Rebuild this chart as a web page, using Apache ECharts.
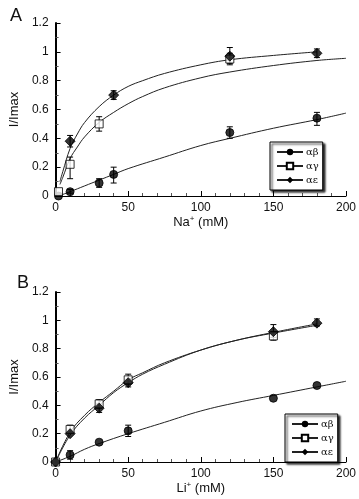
<!DOCTYPE html>
<html><head><meta charset="utf-8">
<script src="https://cdn.jsdelivr.net/npm/echarts@6/dist/echarts.min.js"></script>
<style>html,body{margin:0;padding:0;background:#fff}#c{width:359px;height:499px}</style>
</head><body><div id="c"></div>
<script>
// ---- Panel A (Na+) ----
const naAB = [[2,0.0],[10,0.03],[30,0.09],[40,0.15],[120,0.44],[180,0.54]];
const naAG = [[2,0.03],[10,0.22],[30,0.50],[120,0.95]];
const naAE = [[10,0.38],[40,0.70],[120,0.97],[180,0.99]];
const naErrAB = [[10,0.02,0.045],[30,0.06,0.12],[40,0.09,0.20],[120,0.40,0.48],[180,0.49,0.58]];
const naErrAG = [[10,0.12,0.27],[30,0.45,0.55],[120,0.91,0.99]];
const naErrAE = [[10,0.34,0.42],[40,0.67,0.73],[120,0.92,1.03],[180,0.96,1.02]];
const naFitAB = [[2,0],[10,0.03],[20,0.07],[30,0.11],[40,0.15],[50,0.19],[75,0.27],[100,0.35],[120,0.40],[150,0.47],[180,0.53],[200,0.575]];
const naFitAG = [[3,0.08],[5,0.13],[10,0.26],[15,0.34],[20,0.41],[30,0.51],[40,0.58],[50,0.64],[60,0.69],[75,0.75],[100,0.82],[120,0.86],[150,0.905],[180,0.94],[200,0.955]];
const naFitAE = [[3,0.1],[5,0.17],[10,0.33],[15,0.43],[20,0.51],[30,0.62],[40,0.70],[50,0.76],[60,0.80],[75,0.85],[100,0.91],[120,0.945],[150,0.975],[180,1.0]];
// ---- Panel B (Li+) ----
const liAB = [[0,0],[10,0.05],[30,0.14],[50,0.22],[150,0.45],[180,0.54]];
const liAG = [[0,0],[10,0.23],[30,0.41],[50,0.58],[150,0.89]];
const liAE = [[0,0],[10,0.20],[30,0.38],[50,0.56],[150,0.92],[180,0.98]];
const liErrAB = [[10,0.02,0.08],[50,0.18,0.26]];
const liErrAG = [[10,0.21,0.26],[30,0.38,0.44],[50,0.55,0.62],[150,0.86,0.92]];
const liErrAE = [[30,0.35,0.41],[50,0.53,0.58],[150,0.88,0.97],[180,0.96,1.01]];
const liFitAB = [[0,0],[10,0.04],[20,0.09],[30,0.13],[50,0.20],[75,0.28],[100,0.36],[125,0.42],[150,0.47],[180,0.53],[200,0.57]];
const liFitAG = [[0,0],[10,0.21],[20,0.33],[30,0.42],[40,0.50],[50,0.58],[60,0.63],[75,0.70],[100,0.79],[125,0.86],[150,0.91],[180,0.965]];
const liFitAE = [[0,0],[10,0.19],[20,0.31],[30,0.40],[40,0.49],[50,0.56],[60,0.62],[75,0.69],[100,0.79],[125,0.86],[150,0.915],[180,0.975]];

const names = ['αβ','αγ','αε'];
const xTicks = [0,50,100,150,200];
const yTicks = [0,0.2,0.4,0.6,0.8,1,1.2];

const FONT = 'Liberation Sans, Arial, sans-serif';
const chart = echarts.init(document.getElementById('c'), null, {renderer:'canvas'});

function xAxis(gi, nm){
  return {type:'value', gridIndex:gi, min:0, max:200, interval:50,
    name:nm, nameLocation:'middle', nameGap:19,
    nameTextStyle:{color:'#111', fontSize:13, fontFamily:FONT, rich:{s:{fontSize:8, verticalAlign:'top', color:'#111', fontFamily:FONT, padding:[0,0,6,0]}}},
    axisLine:{lineStyle:{color:'#000', width:1}},
    axisTick:{inside:true, length:5, lineStyle:{color:'#000'}},
    minorTick:{show:true, splitNumber:5, length:3, lineStyle:{color:'#555'}},
    splitLine:{show:false},
    axisLabel:{color:'#111', fontSize:12, fontFamily:FONT, margin:6,
      formatter:v=> xTicks.includes(v)? String(v):''}};
}
function yAxis(gi){
  return {type:'value', gridIndex:gi, min:0, max:1.2, interval:0.2,
    name:'I/Imax', nameLocation:'middle', nameGap:30, nameRotate:90,
    nameTextStyle:{color:'#111', fontSize:13, fontFamily:FONT},
    axisLine:{lineStyle:{color:'#000', width:2}},
    axisTick:{inside:true, length:5, lineStyle:{color:'#000'}},
    minorTick:{show:true, splitNumber:2, length:3, lineStyle:{color:'#555'}},
    splitLine:{show:false},
    axisLabel:{color:'#111', fontSize:12, fontFamily:FONT, margin:7,
      formatter:v=>{ const r=Math.round(v*10)/10; return yTicks.includes(r)? String(r):''; }}};
}
const sym = {
  'αβ': {symbol:'circle', size:8, itemStyle:{color:'#000', borderColor:'#000'}},
  'αγ': {symbol:'rect', size:8, itemStyle:{color:'#fff', borderColor:'#000', borderWidth:1}},
  'αε': {symbol:'diamond', size:10, itemStyle:{color:'#000', borderColor:'#000'}}
};
function fit(name, data, gi){
  return {type:'line', name:name, xAxisIndex:gi, yAxisIndex:gi, data:data, smooth:0.4,
    showSymbol:false, symbol:sym[name].symbol, symbolSize:sym[name].size, itemStyle:sym[name].itemStyle,
    lineStyle:{color:'#222', width:1}, silent:true, z:2};
}
function pts(name, data, gi){
  return {type:'scatter', name:name, xAxisIndex:gi, yAxisIndex:gi, data:data,
    symbol:sym[name].symbol, symbolSize:sym[name].size, itemStyle:sym[name].itemStyle, z:5};
}
function err(data, gi){
  return {type:'custom', name:'err', xAxisIndex:gi, yAxisIndex:gi, data:data, z:4,
    renderItem:(params, api)=>{
      const x=api.value(0), lo=api.coord([x,api.value(1)]), hi=api.coord([x,api.value(2)]);
      const w=3;
      return {type:'group', children:[
        {type:'line', shape:{x1:lo[0],y1:lo[1],x2:hi[0],y2:hi[1]}, style:{stroke:'#000', lineWidth:1}},
        {type:'line', shape:{x1:lo[0]-w,y1:lo[1],x2:lo[0]+w,y2:lo[1]}, style:{stroke:'#000', lineWidth:1}},
        {type:'line', shape:{x1:hi[0]-w,y1:hi[1],x2:hi[0]+w,y2:hi[1]}, style:{stroke:'#000', lineWidth:1}}
      ]};
    }};
}
function legend(left, top, gap){
  return {data:names, orient:'vertical', left:left, top:top, selectedMode:false,
    itemWidth:26, itemHeight:8, itemGap:gap, padding:[5,4,5,6],
    backgroundColor:'#fff', borderColor:'#000', borderWidth:1,
    shadowColor:'rgba(0,0,0,0.85)', shadowOffsetX:2, shadowOffsetY:2, shadowBlur:2,
    textStyle:{color:'#111', fontSize:10, fontFamily:'DejaVu Serif, serif', padding:[0,0,0,-2]}};
}

chart.setOption({
  animation:false,
  backgroundColor:'#fff',
  title:[
    {text:'A', left:5, top:2, textStyle:{fontSize:18, fontWeight:'normal', color:'#111', fontFamily:FONT}},
    {text:'B', left:12, top:269, textStyle:{fontSize:18, fontWeight:'normal', color:'#111', fontFamily:FONT}}
  ],
  grid:[
    {left:50, right:11, top:23, height:173},
    {left:51, right:11, top:292, height:170}
  ],
  xAxis:[xAxis(0,'Na{s|+} (mM)'), xAxis(1,'Li{s|+} (mM)')],
  yAxis:[yAxis(0), yAxis(1)],
  legend:[legend(270,142,4), legend(285,414,4)],
  series:[
    fit('αβ', naFitAB, 0), fit('αγ', naFitAG, 0), fit('αε', naFitAE, 0),
    fit('αβ', liFitAB, 1), fit('αγ', liFitAG, 1), fit('αε', liFitAE, 1),
    err(naErrAB,0), err(naErrAG,0), err(naErrAE,0),
    err(liErrAB,1), err(liErrAG,1), err(liErrAE,1),
    pts('αβ', naAB, 0), pts('αγ', naAG, 0), pts('αε', naAE, 0),
    pts('αβ', liAB, 1), pts('αγ', liAG, 1), pts('αε', liAE, 1)
  ]
});
</script></body></html>
